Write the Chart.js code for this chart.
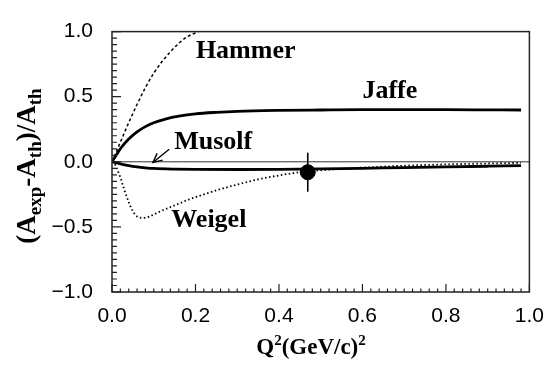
<!DOCTYPE html>
<html>
<head>
<meta charset="utf-8">
<script src="https://cdn.jsdelivr.net/npm/chart.js@4"></script>
<style>
  html, body { margin: 0; padding: 0; background: #fff; }
  #wrap { width: 556px; height: 365px; }
</style>
</head>
<body>
<div id="wrap"><canvas id="asymChart" width="556" height="365"></canvas></div>
<script>
// curves
const hammerX = [0, 0.01, 0.02, 0.04, 0.06, 0.08, 0.1, 0.12, 0.14, 0.16, 0.18, 0.207];
const hammerY = [0, 0.075, 0.15, 0.30, 0.44, 0.57, 0.68, 0.77, 0.845, 0.91, 0.96, 1.0];

const jaffeX = [0, 0.01, 0.02, 0.04, 0.06, 0.08, 0.1, 0.13, 0.16, 0.2, 0.25, 0.3, 0.4, 0.5, 0.6, 0.7, 0.8, 0.9, 0.98];
const jaffeY = [0, 0.05, 0.10, 0.175, 0.23, 0.27, 0.30, 0.33, 0.35, 0.368, 0.38, 0.388, 0.395, 0.398, 0.4, 0.4, 0.4, 0.399, 0.398];

const musolfX = [0, 0.02, 0.04, 0.06, 0.08, 0.1, 0.15, 0.2, 0.3, 0.4, 0.5, 0.6, 0.7, 0.8, 0.9, 0.98];
const musolfY = [0, -0.016, -0.029, -0.039, -0.046, -0.051, -0.056, -0.058, -0.059, -0.058, -0.055, -0.05, -0.044, -0.039, -0.034, -0.03];

const weigelX = [0, 0.005, 0.01, 0.02, 0.03, 0.04, 0.05, 0.06, 0.07, 0.08, 0.09, 0.1, 0.12, 0.15, 0.18, 0.22, 0.26, 0.3, 0.35, 0.4, 0.45, 0.5, 0.6, 0.7, 0.8, 0.9, 0.98];
const weigelY = [0, -0.01, -0.04, -0.12, -0.22, -0.31, -0.38, -0.42, -0.43, -0.43, -0.42, -0.405, -0.375, -0.335, -0.295, -0.25, -0.21, -0.175, -0.135, -0.105, -0.08, -0.065, -0.045, -0.03, -0.02, -0.013, -0.008];

const zeroX = [0, 1];
const zeroY = [0, 0];

// measured point
const pointX = [0.469];
const pointY = [-0.08];
const pointErr = [0.15];

const xTicks = [0, 0.2, 0.4, 0.6, 0.8, 1.0];
const yTicks = [-1.0, -0.5, 0, 0.5, 1.0];

const curveLabels = ['Hammer', 'Jaffe', 'Musolf', 'Weigel'];
const labelX = [0.201, 0.600, 0.149, 0.142];
const labelY = [0.80, 0.49, 0.10, -0.50];

const arrowFrom = [0.137, 0.097];
const arrowTo = [0.098, -0.005];

function toPoints(xs, ys) {
    return xs.map((x, i) => ({ x: x, y: ys[i] }));
}

function fmt(v) {
    return v < 0 ? '\u2212' + Math.abs(v).toFixed(1) : v.toFixed(1);
}

const serif = '"Liberation Serif", "Times New Roman", serif';

// text with sub/superscripts, centred on x
function drawRich(ctx, parts, x, y) {
    let total = 0;
    parts.forEach(p => {
        ctx.font = 'bold ' + p.s + 'px ' + serif;
        p.w = ctx.measureText(p.t).width;
        total += p.w;
    });
    let cx = x - total / 2;
    ctx.textAlign = 'left';
    ctx.textBaseline = 'alphabetic';
    parts.forEach(p => {
        ctx.font = 'bold ' + p.s + 'px ' + serif;
        ctx.fillText(p.t, cx, y + (p.dy || 0));
        cx += p.w;
    });
}

function minorTicks(min, max, step) {
    const out = [];
    const n = Math.round((max - min) / step);
    for (let i = 0; i <= n; i++) out.push(min + i * step);
    return out;
}

const decorations = {
    id: 'decorations',
    beforeDatasetsDraw(chart) {
        const ctx = chart.ctx;
        const xs = chart.scales.x, ys = chart.scales.y;
        ctx.save();
        ctx.strokeStyle = '#000';
        ctx.lineWidth = 1.6;
        pointX.forEach((px, i) => {
            const x = xs.getPixelForValue(px);
            ctx.beginPath();
            ctx.moveTo(x, ys.getPixelForValue(pointY[i] + pointErr[i]));
            ctx.lineTo(x, ys.getPixelForValue(pointY[i] - pointErr[i]));
            ctx.stroke();
        });
        ctx.restore();
    },
    afterDatasetsDraw(chart) {
        const ctx = chart.ctx;
        const a = chart.chartArea;
        const xs = chart.scales.x, ys = chart.scales.y;
        ctx.save();

        // frame
        ctx.strokeStyle = '#222';
        ctx.lineWidth = 1.5;
        ctx.strokeRect(a.left, a.top, a.right - a.left, a.bottom - a.top);

        // inward ticks on bottom and left
        ctx.lineWidth = 1.2;
        ctx.beginPath();
        minorTicks(0, 1, 0.02).forEach((v, i) => {
            const x = xs.getPixelForValue(v);
            const len = (i % 10 === 0) ? 8 : 3.5;
            ctx.moveTo(x, a.bottom);
            ctx.lineTo(x, a.bottom - len);
        });
        minorTicks(-1, 1, 0.05).forEach((v, i) => {
            const y = ys.getPixelForValue(v);
            const len = (i % 10 === 0) ? 9 : 5;
            ctx.moveTo(a.left, y);
            ctx.lineTo(a.left + len, y);
        });
        ctx.stroke();

        // curve names
        ctx.fillStyle = '#000';
        ctx.font = 'bold 26px ' + serif;
        ctx.textAlign = 'left';
        ctx.textBaseline = 'alphabetic';
        curveLabels.forEach((t, i) => {
            ctx.fillText(t, xs.getPixelForValue(labelX[i]), ys.getPixelForValue(labelY[i]));
        });

        // arrow to Musolf curve
        const x0 = xs.getPixelForValue(arrowFrom[0]), y0 = ys.getPixelForValue(arrowFrom[1]);
        const x1 = xs.getPixelForValue(arrowTo[0]), y1 = ys.getPixelForValue(arrowTo[1]);
        const ang = Math.atan2(y1 - y0, x1 - x0);
        ctx.strokeStyle = '#000';
        ctx.lineWidth = 1.4;
        ctx.beginPath();
        ctx.moveTo(x0, y0);
        ctx.lineTo(x1, y1);
        ctx.moveTo(x1 - 10 * Math.cos(ang - 0.45), y1 - 10 * Math.sin(ang - 0.45));
        ctx.lineTo(x1, y1);
        ctx.lineTo(x1 - 10 * Math.cos(ang + 0.45), y1 - 10 * Math.sin(ang + 0.45));
        ctx.stroke();

        ctx.restore();
    },
    afterDraw(chart) {
        const ctx = chart.ctx;
        ctx.save();
        ctx.fillStyle = '#000';
        drawRich(ctx, [
            { t: 'Q', s: 23 }, { t: '2', s: 15, dy: -9 },
            { t: '(GeV/c)', s: 23 }, { t: '2', s: 15, dy: -9 }
        ], 311, 354);

        ctx.translate(35, 166);
        ctx.rotate(-Math.PI / 2);
        drawRich(ctx, [
            { t: '(A', s: 27 }, { t: 'exp', s: 19, dy: 6 },
            { t: '-A', s: 27 }, { t: 'th', s: 19, dy: 6 },
            { t: ')/A', s: 27 }, { t: 'th', s: 19, dy: 6 }
        ], 0, 0);
        ctx.restore();
    }
};

const ctx = document.getElementById('asymChart').getContext('2d');
const chart = new Chart(ctx, {
    type: 'scatter',
    data: {
        datasets: [
            {
                label: 'data',
                data: toPoints(pointX, pointY),
                pointRadius: 7.5,
                pointBackgroundColor: '#000',
                pointBorderColor: '#000',
                showLine: false
            },
            {
                label: 'Hammer',
                data: toPoints(hammerX, hammerY),
                showLine: true,
                borderColor: '#000',
                borderWidth: 1.5,
                borderDash: [3, 2.5],
                pointRadius: 0,
                cubicInterpolationMode: 'monotone'
            },
            {
                label: 'Jaffe',
                data: toPoints(jaffeX, jaffeY),
                showLine: true,
                borderColor: '#000',
                borderWidth: 2.8,
                pointRadius: 0,
                cubicInterpolationMode: 'monotone'
            },
            {
                label: 'Musolf',
                data: toPoints(musolfX, musolfY),
                showLine: true,
                borderColor: '#000',
                borderWidth: 2.8,
                pointRadius: 0,
                cubicInterpolationMode: 'monotone'
            },
            {
                label: 'Weigel',
                data: toPoints(weigelX, weigelY),
                showLine: true,
                borderColor: '#000',
                borderWidth: 1.8,
                borderDash: [1.5, 2.5],
                pointRadius: 0,
                cubicInterpolationMode: 'monotone'
            },
            {
                label: 'zero',
                data: toPoints(zeroX, zeroY),
                showLine: true,
                borderColor: '#333',
                borderWidth: 1,
                pointRadius: 0
            }
        ]
    },
    options: {
        responsive: false,
        animation: false,
        devicePixelRatio: 1,
        layout: { padding: { left: 0, right: 22, top: 21, bottom: 0 } },
        plugins: {
            legend: { display: false },
            tooltip: { enabled: false }
        },
        scales: {
            x: {
                type: 'linear',
                min: 0,
                max: 1,
                afterBuildTicks: s => { s.ticks = xTicks.map(v => ({ value: v })); },
                afterFit: s => { s.height = 73; },
                grid: { display: false, drawTicks: false },
                border: { display: false },
                ticks: {
                    padding: 12,
                    color: '#000',
                    maxRotation: 0,
                    font: { family: '"Liberation Sans", Arial, sans-serif', size: 21 },
                    callback: v => fmt(v)
                }
            },
            y: {
                type: 'linear',
                min: -1,
                max: 1,
                afterBuildTicks: s => { s.ticks = yTicks.map(v => ({ value: v })); },
                afterFit: s => { s.width = 112; },
                grid: { display: false, drawTicks: false },
                border: { display: false },
                ticks: {
                    padding: 19,
                    color: '#000',
                    font: { family: '"Liberation Sans", Arial, sans-serif', size: 21 },
                    callback: v => fmt(v)
                }
            }
        }
    },
    plugins: [decorations]
});
</script>
</body>
</html>
